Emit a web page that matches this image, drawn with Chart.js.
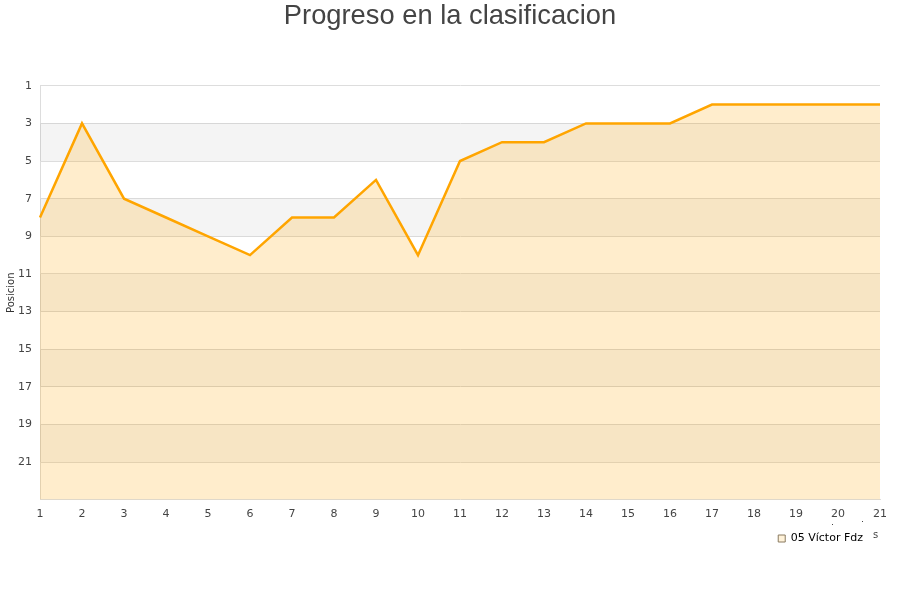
<!DOCTYPE html>
<html>
<head>
<meta charset="utf-8">
<script src="https://cdn.jsdelivr.net/npm/chart.js@4"></script>
<style>
html,body{margin:0;padding:0;background:#fff;}
#wrap{width:900px;height:600px;}
</style>
</head>
<body>
<div id="wrap"><canvas id="c" width="900" height="600"></canvas></div>
<script>
const jornadas = ["1","2","3","4","5","6","7","8","9","10","11","12","13","14","15","16","17","18","19","20","21"];
const posiciones = [8,3,7,8,9,10,8,8,6,10,5,4,4,3,3,3,2,2,2,2,2];
const serieNombre = "05 Víctor Fdz";
const yTicks = [1,3,5,7,9,11,13,15,17,19,21];
const bandStarts = [3,7,11,15,19];

const bands = {
  id:'bands',
  afterLayout(chart){
    if (chart.legend){ chart.legend.left -= 13; chart.legend.right -= 13; }
    if (chart.titleBlock){ chart.titleBlock.right = 900; chart.titleBlock.left = 0; }
  },
  beforeDatasetsDraw(chart){
    const {ctx, chartArea, scales:{y}} = chart;
    ctx.save();
    ctx.fillStyle = 'rgba(0,0,0,0.045)';
    bandStarts.forEach(b=>{
      const t = y.getPixelForValue(b), bt = y.getPixelForValue(b+2);
      ctx.fillRect(chartArea.left, t, chartArea.right-chartArea.left, bt-t);
    });
    ctx.restore();
  },
  afterDraw(chart){
    const ctx = chart.ctx;
    ctx.save();
    ctx.fillStyle = '#444';
    ctx.font = '10px "DejaVu Sans"';
    ctx.fillText('s', 873, 535);
    ctx.fillRect(832, 524, 1, 1);
    ctx.fillRect(862, 521, 1, 1);
    ctx.restore();
  }
};

new Chart(document.getElementById('c'), {
  type:'line',
  data:{
    labels: jornadas,
    datasets:[{
      label: serieNombre,
      data: posiciones,
      borderColor:'#ffa500',
      backgroundColor:'rgba(255,165,0,0.2)',
      borderWidth:2.5,
      pointRadius:0,
      pointHoverRadius:0,
      tension:0,
      fill:{value:23}
    }]
  },
  options:{
    responsive:false,
    animation:false,
    layout:{padding:{left:0,right:20,top:0,bottom:46}},
    plugins:{
      title:{display:true,text:'Progreso en la clasificacion',color:'#444',
        font:{family:'"Liberation Sans", Arial, sans-serif',size:27.3,weight:'normal'},
        padding:{top:0,bottom:53}},
      legend:{position:'bottom',align:'end',
        labels:{boxWidth:7,boxHeight:7,padding:4,color:'#222',font:{family:'"DejaVu Sans"',size:11},
          generateLabels(chart){
            return [{text:serieNombre,fillStyle:'rgba(255,165,0,0.15)',strokeStyle:'#8a7a60',lineWidth:1,datasetIndex:0}];
          }}},
      tooltip:{enabled:false}
    },
    scales:{
      x:{
        type:'category',
        offset:false,
        grid:{display:false,drawTicks:false},
        border:{color:'#ddd'},
        ticks:{color:'#444',font:{family:'"DejaVu Sans"',size:11},padding:8,maxRotation:0,autoSkip:false}
      },
      y:{
        reverse:true,
        min:1,max:23,
        afterBuildTicks(s){ s.ticks = yTicks.map(v=>({value:v})); },
        afterFit(s){ s.width = 40; },
        grid:{color:'#ddd',drawTicks:false},
        border:{color:'#ddd'},
        title:{display:true,text:'Posicion',color:'#333',font:{family:'"DejaVu Sans"',size:10},padding:{top:5,bottom:0}},
        ticks:{color:'#444',font:{family:'"DejaVu Sans"',size:11},padding:8}
      }
    }
  },
  plugins:[bands]
});
</script>
</body>
</html>
